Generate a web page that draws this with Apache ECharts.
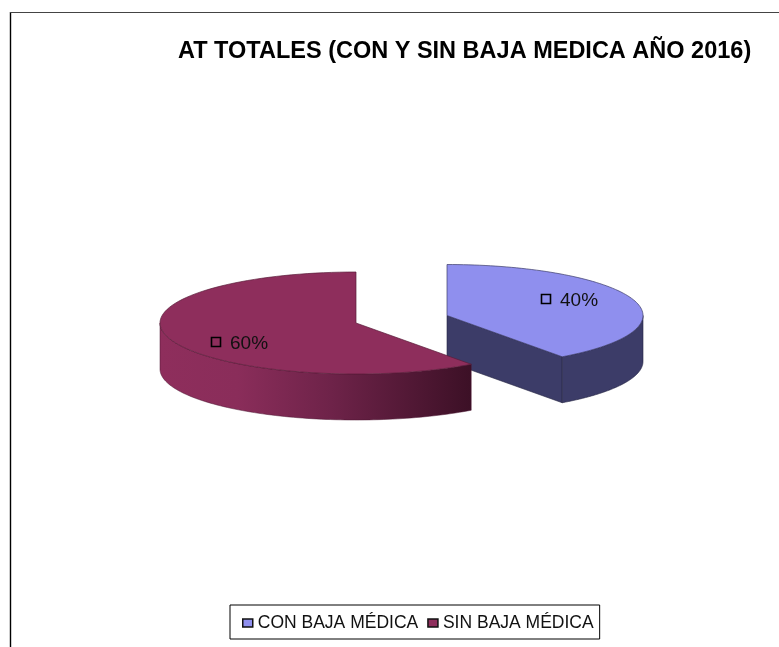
<!DOCTYPE html>
<html><head><meta charset="utf-8">
<style>html,body{margin:0;padding:0;background:#fff}#c{width:779px;height:647px}</style>
<script src="https://cdn.jsdelivr.net/npm/echarts@6/dist/echarts.min.js"></script>
</head><body><div id="c"></div>
<script>
const categories = ['CON BAJA MÉDICA', 'SIN BAJA MÉDICA'];
const shares = [40, 60];
const titleText = 'AT TOTALES (CON Y SIN BAJA MEDICA AÑO 2016)';

// layout only
const RX = 196, RY = 51, DEPTH = 46;
const layout = [
  { cx: 447, cy: 315.5, top: '#8f8fee', keyX: 546, keyY: 299, textX: 560, textY: 301 },
  { cx: 356, cy: 323, top: '#8e2e5c', keyX: 216, keyY: 342, textX: 230, textY: 344 }
];
const total = shares.reduce((a, b) => a + b, 0);

function arcPts(l, a0, a1, dy) {
  const pts = [], n = 90;
  for (let i = 0; i <= n; i++) {
    const a = (a0 + (a1 - a0) * i / n) * Math.PI / 180;
    pts.push([l.cx + RX * Math.sin(a), l.cy - RY * Math.cos(a) + dy]);
  }
  return pts;
}
function poly(pts, fill, stroke, lw) {
  return { type: 'polygon', shape: { points: pts },
    style: { fill: fill, stroke: stroke || null, lineWidth: lw || 0 } };
}
function sliceRenderer(idx) {
  return function () {
    const l = layout[idx];
    const a0 = shares.slice(0, idx).reduce((a, b) => a + b, 0) / total * 360;
    const a1 = a0 + shares[idx] / total * 360;
    const c = [];
    const apex = [l.cx, l.cy];
    const apexD = [l.cx, l.cy + DEPTH];
    if (idx === 0) {
      const wall = '#3c3c68', edge = '#24243f';
      const e = arcPts(l, a1, a1, 0)[0];
      c.push(poly([apex, e, [e[0], e[1] + DEPTH], apexD], wall, edge, 0.6));
      const top = arcPts(l, 90, a1, 0), bot = arcPts(l, 90, a1, DEPTH).reverse();
      c.push(poly(top.concat(bot), wall, edge, 0.6));
    } else {
      const top = arcPts(l, a0, 270, 0), bot = arcPts(l, a0, 270, DEPTH).reverse();
      const grad = new echarts.graphic.LinearGradient(1, 0, 0, 0, [
        { offset: 0, color: '#3c1026' },
        { offset: 0.45, color: '#6e2349' },
        { offset: 0.75, color: '#8a2d5a' },
        { offset: 1, color: '#8e2e5c' }
      ]);
      c.push(poly(top.concat(bot), grad, '#4a1530', 0.5));
    }
    const rim = arcPts(l, a0, a1, 0);
    c.push(poly([apex].concat(rim), l.top, idx === 0 ? '#3c3c68' : '#5a1c3a', 0.7));
    c.push({ type: 'rect', z2: 10, shape: { x: l.keyX - 4.5, y: l.keyY - 4.5, width: 9, height: 9 },
      style: { fill: null, stroke: '#000', lineWidth: 1.6 } });
    c.push({ type: 'text', z2: 10, style: { x: l.textX, y: l.textY,
      text: Math.round(shares[idx] / total * 100) + '%', fill: '#111',
      font: '19px "Liberation Sans"', textAlign: 'left', textVerticalAlign: 'middle' } });
    return { type: 'group', children: c };
  };
}
const chart = echarts.init(document.getElementById('c'), null, { renderer: 'canvas' });
chart.setOption({
  animation: false,
  backgroundColor: '#fff',
  title: { text: titleText, left: 173, top: 35,
    textStyle: { fontFamily: 'Liberation Sans', fontWeight: 'bold', fontSize: 23.5, color: '#000' } },
  legend: {
    data: categories, left: 230, top: 605, width: 372, height: 34,
    orient: 'horizontal', padding: [9, 6, 7, 12], itemGap: 9, itemWidth: 10, itemHeight: 8,
    borderColor: '#000', borderWidth: 1, backgroundColor: '#fff', icon: 'rect',
    selectedMode: false,
    itemStyle: { borderColor: '#111', borderWidth: 1.5 },
    textStyle: { fontFamily: 'Liberation Sans', fontSize: 17.5, color: '#111' }
  },
  series: categories.map((name, i) => ({
    type: 'custom', name: name, coordinateSystem: 'none', silent: true,
    itemStyle: { color: layout[i].top },
    data: [shares[i]], renderItem: sliceRenderer(i)
  })),
  graphic: [
    { type: 'line', shape: { x1: 10.5, y1: 12, x2: 10.5, y2: 647 }, style: { stroke: '#000', lineWidth: 1.4 } },
    { type: 'line', shape: { x1: 10, y1: 12.5, x2: 779, y2: 12.5 }, style: { stroke: '#444', lineWidth: 1.2 } }
  ]
});
</script></body></html>
